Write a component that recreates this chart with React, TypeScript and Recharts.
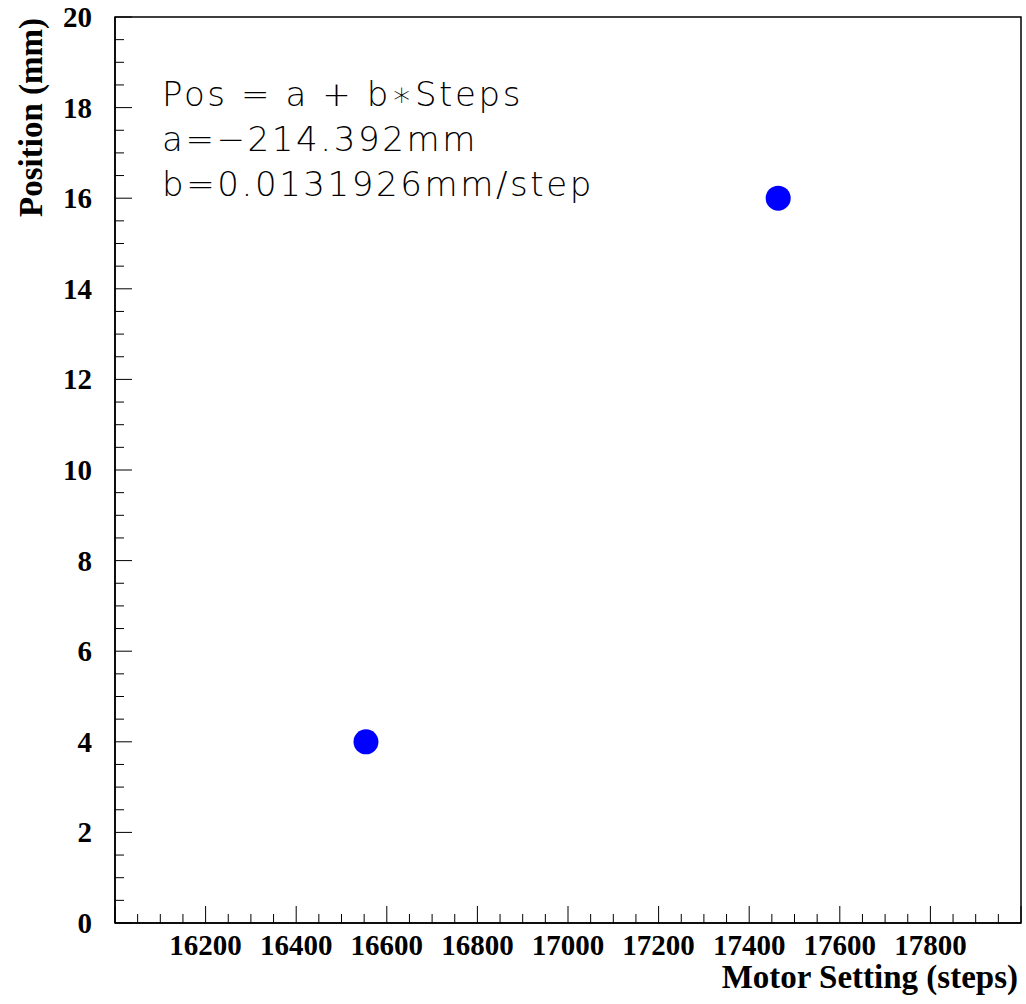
import React from "react";
import {
  ScatterChart,
  Scatter,
  XAxis,
  YAxis,
  ReferenceArea,
  Label,
} from "recharts";

const motorSteps = [16554, 17464];
const positions = [4, 16];

const xMajorLabels = [16200, 16400, 16600, 16800, 17000, 17200, 17400, 17600, 17800];
const yMajorLabels = [0, 2, 4, 6, 8, 10, 12, 14, 16, 18, 20];

const fitLines = ["Pos = a + b\u2217Steps", "a=\u2212214.392mm", "b=0.0131926mm/step"];

const X_MIN = 16000;
const X_MAX = 18000;
const Y_MIN = 0;
const Y_MAX = 20;

// every minor tick, labels only on majors
const xTicks: number[] = [];
for (let v = X_MIN; v <= X_MAX; v += 50) xTicks.push(v);
const yTicks: number[] = [];
for (let v = Y_MIN; v <= Y_MAX; v += 0.5) yTicks.push(v);

const serif = "'Liberation Serif', 'Times New Roman', serif";

function XTick(props: any) {
  const { x, y, payload } = props;
  const v = Number(payload?.value);
  const major = v % 200 === 0;
  const showLabel = xMajorLabels.includes(v);
  return (
    <g>
      <line x1={x} x2={x} y1={y} y2={y - (major ? 17 : 9)} stroke="#000" strokeWidth={1} />
      {showLabel && (
        <text x={x} y={y + 32} textAnchor="middle" fontFamily={serif} fontWeight="bold" fontSize={29} fill="#000">
          {v}
        </text>
      )}
    </g>
  );
}

function YTick(props: any) {
  const { x, y, payload } = props;
  const v = Number(payload?.value);
  const major = v % 2 === 0;
  const showLabel = yMajorLabels.includes(v);
  return (
    <g>
      <line x1={x} x2={x + (major ? 17 : 9)} y1={y} y2={y} stroke="#000" strokeWidth={1} />
      {showLabel && (
        <text x={x - 23} y={y + 10} textAnchor="end" fontFamily={serif} fontWeight="bold" fontSize={29} fill="#000">
          {v}
        </text>
      )}
    </g>
  );
}

function Dot(props: any) {
  const { cx, cy } = props;
  return <circle cx={cx} cy={cy} r={12.5} fill="#0000ff" />;
}

export default function App() {
  const data = motorSteps.map((s, i) => ({ steps: s, pos: positions[i] }));
  return (
    <div style={{ position: "absolute", left: 0, top: 0, width: 1026, height: 1004, background: "#fff" }}>
      <ScatterChart width={1026} height={1004} margin={{ top: 17, right: 5, bottom: 0, left: 0 }}>
        <XAxis
          type="number"
          dataKey="steps"
          domain={[X_MIN, X_MAX]}
          ticks={xTicks}
          interval={0}
          allowDataOverflow
          tickSize={0}
          tickMargin={0}
          tickLine={false}
          height={81}
          axisLine={{ stroke: "#000", strokeWidth: 1.5 }}
          tick={<XTick />}
        >
          <Label
            content={(p: any) => {
              const vb = p.viewBox || {};
              return (
                <text
                  x={vb.x + vb.width - 3}
                  y={vb.y + 65}
                  textAnchor="end"
                  fontFamily={serif}
                  fontWeight="bold"
                  fontSize={33}
                  fill="#000"
                >
                  Motor Setting (steps)
                </text>
              );
            }}
          />
        </XAxis>
        <YAxis
          type="number"
          dataKey="pos"
          domain={[Y_MIN, Y_MAX]}
          ticks={yTicks}
          interval={0}
          allowDataOverflow
          tickSize={0}
          tickMargin={0}
          tickLine={false}
          width={115}
          axisLine={{ stroke: "#000", strokeWidth: 1.5 }}
          tick={<YTick />}
        >
          <Label
            content={(p: any) => {
              const vb = p.viewBox || {};
              const cx = 42;
              const cy = vb.y + 1;
              return (
                <text
                  x={cx}
                  y={cy}
                  transform={`rotate(-90, ${cx}, ${cy})`}
                  textAnchor="end"
                  fontFamily={serif}
                  fontWeight="bold"
                  fontSize={33}
                  fill="#000"
                >
                  Position (mm)
                </text>
              );
            }}
          />
        </YAxis>
        <ReferenceArea
          x1={X_MIN}
          x2={X_MAX}
          y1={Y_MIN}
          y2={Y_MAX}
          fill="none"
          stroke="#000"
          strokeWidth={1.5}
          ifOverflow="visible"
        />
        <Scatter data={data} shape={<Dot />} isAnimationActive={false} />
      </ScatterChart>
      <div
        style={{
          position: "absolute",
          left: 162,
          top: 72,
          fontFamily: "'DejaVu Sans', sans-serif",
          fontWeight: 200,
          fontSize: 34,
          letterSpacing: 2.6,
          lineHeight: "45px",
          color: "#000",
          whiteSpace: "pre",
        }}
      >
        {fitLines.map((l) => (
          <div key={l}>{l}</div>
        ))}
      </div>
    </div>
  );
}
